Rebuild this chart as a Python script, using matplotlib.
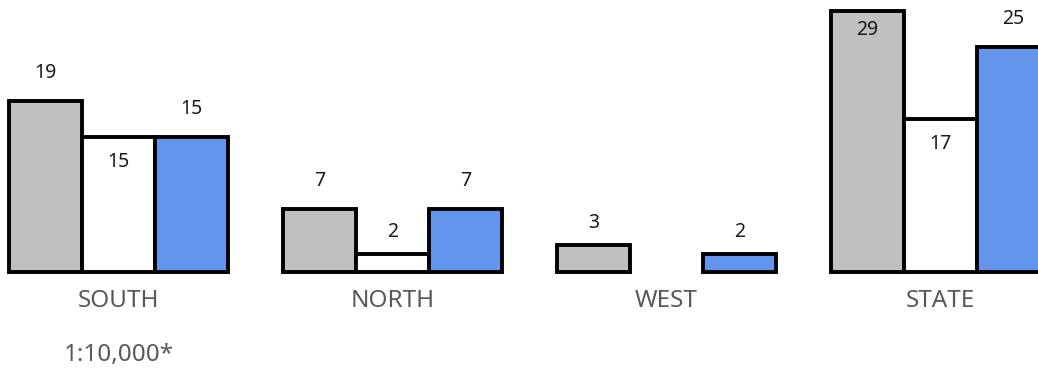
import numpy as np
import matplotlib
matplotlib.use("Agg")
import matplotlib.pyplot as plt

plt.rcParams['font.family'] = ['Noto Sans', 'DejaVu Sans']

regions = ['SOUTH', 'NORTH', 'WEST', 'STATE']
gray_vals = [19, 7, 3, 29]
white_vals = [15, 2, 0, 17]
blue_vals = [15, 7, 2, 25]
scale_note = '1:10,000*'

series = [gray_vals, white_vals, blue_vals]
colors = ['#c0c0c0', '#ffffff', '#6495ed']
# where the value label goes for each series: above the bar or inside its top
label_pos = ['above', 'inside', 'above']

W, H = 1038, 369
base_px = 272          # baseline, pixels from top
px_per_unit = 9.0
group_px = 274.0
pad_px = 3             # room under the baseline so the bottom stroke shows

fig = plt.figure(figsize=(W / 100, H / 100), dpi=100)
ax = fig.add_axes([0, (H - base_px - pad_px) / H, 1, (base_px + pad_px) / H])
ax.set_xlim(-118.5 / group_px, (W - 118.5) / group_px)
ax.set_ylim(-pad_px / px_per_unit, base_px / px_per_unit)
ax.axis('off')

x = np.arange(len(regions))
bw = 73 / group_px

for i, (vals, col, pos) in enumerate(zip(series, colors, label_pos)):
    xs = x + (i - 1) * bw
    for xi, v in zip(xs, vals):
        if v == 0:
            continue
        ax.bar(xi, v, width=bw, color=col, edgecolor='black', linewidth=2.8)
        p = pos
        top_px = v * px_per_unit
        if p == 'above' and top_px + 40 > base_px:
            p = 'inside'
        if p == 'inside' and top_px < 45:
            p = 'above'
        if p == 'above':
            off = 28 if top_px > 30 else 22
            ax.annotate(str(v), (xi, v), xytext=(0, off), textcoords='offset pixels',
                        ha='center', va='center', fontsize=14, color='#1a1a1a')
        else:
            off = -25 if top_px < 200 else -19
            ax.annotate(str(v), (xi, v), xytext=(0, off), textcoords='offset pixels',
                        ha='center', va='center', fontsize=14, color='#1a1a1a')

for xi, name in zip(x, regions):
    ax.annotate(name, (xi, 0), xytext=(0, -29), textcoords='offset pixels',
                ha='center', va='center', fontsize=17.5, color='#595959',
                annotation_clip=False)

ax.annotate(scale_note, (x[0], 0), xytext=(0, -83), textcoords='offset pixels',
            ha='center', va='center', fontsize=17.5, color='#595959',
            annotation_clip=False)

fig.savefig('out.png', dpi=100, facecolor='w')
